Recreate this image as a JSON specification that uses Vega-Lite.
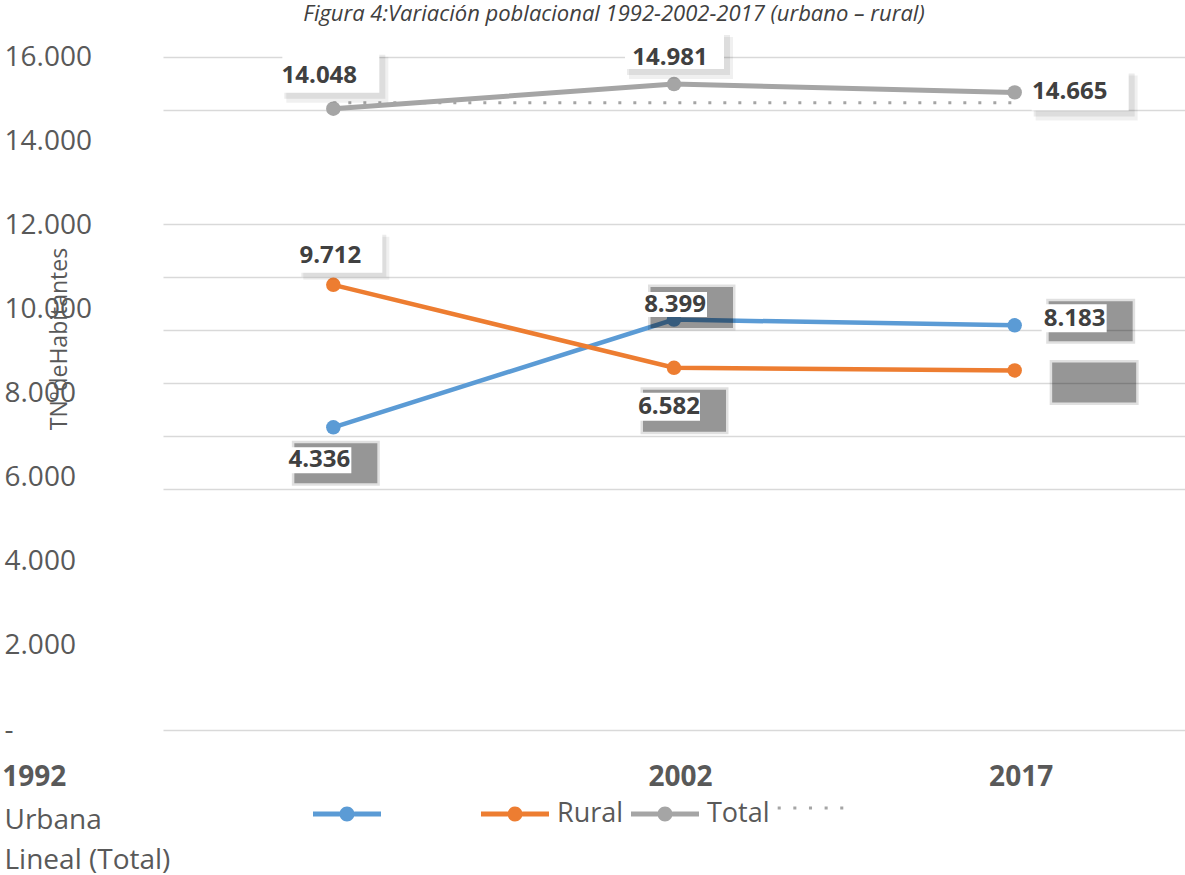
{
  "$schema": "https://vega.github.io/schema/vega-lite/v6.json",
  "autosize": {"type": "none"},
  "padding": {"left": 163, "top": 57, "right": 0, "bottom": 145},
  "width": 1022,
  "height": 673,
  "background": "white",
  "config": {
    "view": {"stroke": null},
    "font": "Open Sans",
    "locale": {"number": {"decimal": ",", "thousands": ".", "grouping": [3], "currency": ["", ""]}}
  },
  "title": {
    "text": "Figura 4:Variación poblacional 1992-2002-2017 (urbano – rural)",
    "font": "Open Sans", "fontStyle": "italic", "fontWeight": "normal", "fontSize": 22,
    "color": "#404040", "anchor": "middle", "frame": "group", "dx": -60, "baseline": "alphabetic", "offset": -10
  },
  "data": {"values": [
    {"id": "U92", "year": "1992", "series": "Urbana", "v": 4336},
    {"id": "U02", "year": "2002", "series": "Urbana", "v": 8399},
    {"id": "U17", "year": "2017", "series": "Urbana", "v": 8183},
    {"id": "R92", "year": "1992", "series": "Rural", "v": 9712},
    {"id": "R02", "year": "2002", "series": "Rural", "v": 6582},
    {"id": "R17", "year": "2017", "series": "Rural", "v": 6482},
    {"id": "T92", "year": "1992", "series": "Total", "v": 14048},
    {"id": "T02", "year": "2002", "series": "Total", "v": 14981},
    {"id": "T17", "year": "2017", "series": "Total", "v": 14665},
    {"id": "L92", "year": "1992", "series": "Lineal (Total)", "v": 14275},
    {"id": "L17", "year": "2017", "series": "Lineal (Total)", "v": 14275}
  ]},
  "encoding": {
    "x": {"field": "year", "type": "nominal",
      "scale": {"type": "point", "padding": 0.5, "domain": ["1992", "2002", "2017"]},
      "axis": {"orient": "bottom", "labelAngle": 0, "labelFont": "Open Sans", "labelFontSize": 28,
        "labelFontWeight": "bold", "labelColor": "#595959", "labelPadding": 47, "labelBaseline": "middle",
        "labelAlign": "right", "labelOffset": 38, "labelOverlap": false, "labelBound": false, "labelFlush": false, "labelLimit": 0,
        "labelExpr": "datum.value === '1992' ? '1992\u00a0\u00a0\u00a0\u00a0\u00a0\u00a0\u00a0\u00a0\u00a0\u00a0\u00a0\u00a0\u00a0\u00a0\u00a0\u00a0\u00a0\u00a0\u00a0\u00a0\u00a0\u00a0\u00a0\u00a0\u00a0\u00a0\u00a0\u00a0\u00a0\u00a0\u00a0\u00a0\u00a0\u00a0\u00a0\u00a0\u00a0\u00a0\u00a0\u00a0\u00a0\u00a0\u200b' : datum.label",
        "ticks": false, "tickSize": 0, "domain": true, "domainColor": "#D9D9D9", "domainWidth": 1.5, "grid": false,
        "title": ["Urbana", "Lineal (Total)"], "titleX": -159, "titleY": 98, "titleAlign": "left",
        "titleAngle": 0, "titleBaseline": "alphabetic", "titleLineHeight": 40, "titleFont": "Open Sans",
        "titleFontSize": 28, "titleFontWeight": "normal", "titleColor": "#595959"}
    }
  },
  "resolve": {"scale": {"y": "independent", "color": "independent", "shape": "independent"}},
  "layer": [
    {
      "transform": [{"filter": "false"}],
      "mark": {"type": "point", "opacity": 0},
      "encoding": {
        "y": {"field": "v", "type": "quantitative",
          "scale": {"domain": [0, 16000], "nice": false, "zero": false},
          "axis": {"orient": "left", "values": [0, 2000, 4000, 6000, 8000, 10000, 12000, 14000, 16000],
            "format": ",d", "labelExpr": "datum.value === 0 ? '-' : datum.label",
            "labelAlign": "left", "labelBaseline": "middle", "labelPadding": 159, "tickSize": 0, "ticks": false,
            "domain": false, "grid": false, "labelFont": "Open Sans", "labelFontSize": 28, "labelColor": "#595959",
            "labelOverlap": false, "labelBound": false, "labelFlush": false,
            "title": "TNºdeHabitantes", "titleX": -104, "titleY": 281.5, "titleAngle": -90,
            "titleAlign": "center", "titleBaseline": "middle", "titleFont": "Open Sans", "titleFontSize": 23,
            "titleFontWeight": "normal", "titleColor": "#595959"}
        }
      }
    },
    {
      "transform": [{"filter": "datum.series === 'Urbana' || datum.series === 'Rural'"}],
      "encoding": {
        "y": {"field": "v", "type": "quantitative",
          "scale": {"domain": [-7087, 18309], "nice": false, "zero": false},
          "axis": {"orient": "left", "values": [2000, 4000, 6000, 8000, 10000, 12000], "labels": false, "ticks": false,
            "domain": false, "grid": true, "gridColor": "#D9D9D9", "gridWidth": 1.5, "title": null}
        }
      },
      "layer": [
        {"mark": {"type": "line", "strokeWidth": 4.5},
          "encoding": {"color": {"field": "series", "type": "nominal",
            "scale": {"domain": ["Urbana", "Rural"], "range": ["#5B9BD5", "#ED7D31"]}, "legend": null}}},
        {"mark": {"type": "point", "filled": true, "size": 210, "opacity": 1, "strokeWidth": 0},
          "encoding": {"color": {"field": "series", "type": "nominal",
            "scale": {"domain": ["Urbana", "Rural"], "range": ["#5B9BD5", "#ED7D31"]}, "legend": null}}},
        {"transform": [{"filter": "datum.id === 'U92'"}], "layer": [
          {"mark": {"type": "point", "shape": "M-4.15,1.35H4.65V5.85H-4.15Z", "size": 400, "filled": true, "color": "black", "opacity": 0.12, "strokeWidth": 0}},
          {"mark": {"type": "point", "shape": "M-3.9,1.6H4.4V5.6H-3.9Z", "size": 400, "filled": true, "color": "black", "opacity": 0.33, "strokeWidth": 0}},
          {"mark": {"type": "point", "shape": "M-4.5,2H1.8V4.6H-4.5Z", "size": 400, "filled": true, "color": "white", "opacity": 1, "strokeWidth": 0}},
          {"mark": {"type": "text", "dx": -14, "dy": 33, "font": "Open Sans", "fontSize": 24, "fontWeight": "bold", "color": "#404040"},
            "encoding": {"text": {"field": "v", "type": "quantitative", "format": ",d"}}}
        ]},
        {"transform": [{"filter": "datum.id === 'U02'"}], "layer": [
          {"mark": {"type": "point", "shape": "M-2.6,-3.51H6.15V1.09H-2.6Z", "size": 400, "filled": true, "color": "black", "opacity": 0.12, "strokeWidth": 0}},
          {"mark": {"type": "point", "shape": "M-2.35,-3.26H5.9V0.84H-2.35Z", "size": 400, "filled": true, "color": "black", "opacity": 0.33, "strokeWidth": 0}},
          {"mark": {"type": "point", "shape": "M-3.1,-2.76H3.3V-0.26H-3.1Z", "size": 400, "filled": true, "color": "white", "opacity": 1, "strokeWidth": 0}},
          {"mark": {"type": "text", "dx": 1, "dy": -14.6, "font": "Open Sans", "fontSize": 24, "fontWeight": "bold", "color": "#404040"},
            "encoding": {"text": {"field": "v", "type": "quantitative", "format": ",d"}}}
        ]},
        {"transform": [{"filter": "datum.id === 'U17'"}], "layer": [
          {"mark": {"type": "point", "shape": "M3.15,-2.65H12.05V1.85H3.15Z", "size": 400, "filled": true, "color": "black", "opacity": 0.12, "strokeWidth": 0}},
          {"mark": {"type": "point", "shape": "M3.4,-2.4H11.8V1.6H3.4Z", "size": 400, "filled": true, "color": "black", "opacity": 0.33, "strokeWidth": 0}},
          {"mark": {"type": "point", "shape": "M2.7,-2.1H9.2V0.7H2.7Z", "size": 400, "filled": true, "color": "white", "opacity": 1, "strokeWidth": 0}},
          {"mark": {"type": "text", "dx": 60, "dy": -6, "font": "Open Sans", "fontSize": 24, "fontWeight": "bold", "color": "#404040"},
            "encoding": {"text": {"field": "v", "type": "quantitative", "format": ",d"}}}
        ]},
        {"transform": [{"filter": "datum.id === 'R17'"}], "layer": [
          {"mark": {"type": "point", "shape": "M3.5,-1.05H12.4V3.45H3.5Z", "size": 400, "filled": true, "color": "black", "opacity": 0.12, "strokeWidth": 0}},
          {"mark": {"type": "point", "shape": "M3.75,-0.8H12.15V3.2H3.75Z", "size": 400, "filled": true, "color": "black", "opacity": 0.33, "strokeWidth": 0}}
        ]},
        {"transform": [{"filter": "datum.id === 'R02'"}], "layer": [
          {"mark": {"type": "point", "shape": "M-3.35,1.95H5.45V6.65H-3.35Z", "size": 400, "filled": true, "color": "black", "opacity": 0.12, "strokeWidth": 0}},
          {"mark": {"type": "point", "shape": "M-3.1,2.2H5.2V6.4H-3.1Z", "size": 400, "filled": true, "color": "black", "opacity": 0.33, "strokeWidth": 0}},
          {"mark": {"type": "point", "shape": "M-3.6,2.5H2.6V5.3H-3.6Z", "size": 400, "filled": true, "color": "white", "opacity": 1, "strokeWidth": 0}},
          {"mark": {"type": "text", "dx": -5, "dy": 39, "font": "Open Sans", "fontSize": 24, "fontWeight": "bold", "color": "#404040"},
            "encoding": {"text": {"field": "v", "type": "quantitative", "format": ",d"}}}
        ]},
        {"transform": [{"filter": "datum.id === 'R92'"}], "layer": [
          {"mark": {"type": "point", "shape": "M-3.0,-4.8H5.6V-0.5H-3.0Z", "size": 400, "filled": true, "color": "black", "opacity": 0.06, "strokeWidth": 0}},
          {"mark": {"type": "point", "shape": "M-3.2,-5.0H5.3V-0.8H-3.2Z", "size": 400, "filled": true, "color": "black", "opacity": 0.08, "strokeWidth": 0}},
          {"mark": {"type": "point", "shape": "M-3.4,-5.2H4.9V-1.2H-3.4Z", "size": 400, "filled": true, "color": "white", "opacity": 1, "strokeWidth": 0}},
          {"mark": {"type": "text", "dx": -3, "dy": -29, "font": "Open Sans", "fontSize": 24, "fontWeight": "bold", "color": "#404040"},
            "encoding": {"text": {"field": "v", "type": "quantitative", "format": ",d"}}}
        ]}
      ]
    },
    {
      "transform": [{"filter": "datum.series === 'Total' || datum.series === 'Lineal (Total)'"}],
      "encoding": {
        "y": {"field": "v", "type": "quantitative",
          "scale": {"domain": [-9396, 16000], "nice": false, "zero": false},
          "axis": {"orient": "left", "values": [14000, 16000], "labels": false, "ticks": false,
            "domain": false, "grid": true, "gridColor": "#D9D9D9", "gridWidth": 1.5, "title": null}
        }
      },
      "layer": [
        {"transform": [{"filter": "datum.series === 'Lineal (Total)'"}],
          "mark": {"type": "line", "color": "#A5A5A5", "strokeWidth": 3, "strokeDash": [3, 12], "strokeCap": "butt"}},
        {"transform": [{"filter": "datum.series === 'Total'"}],
          "mark": {"type": "line", "color": "#A5A5A5", "strokeWidth": 5}},
        {"transform": [{"filter": "datum.series === 'Total'"}],
          "mark": {"type": "point", "filled": true, "size": 210, "opacity": 1, "color": "#A5A5A5", "strokeWidth": 0}},
        {"transform": [{"filter": "datum.id === 'T92'"}], "layer": [
          {"mark": {"type": "point", "shape": "M-4.7,-5.2H5.5V-0.6H-4.7Z", "size": 400, "filled": true, "color": "black", "opacity": 0.06, "strokeWidth": 0}},
          {"mark": {"type": "point", "shape": "M-4.9,-5.4H5.2V-1.0H-4.9Z", "size": 400, "filled": true, "color": "black", "opacity": 0.08, "strokeWidth": 0}},
          {"mark": {"type": "point", "shape": "M-5.1,-5.6H4.6V-1.6H-5.1Z", "size": 400, "filled": true, "color": "white", "opacity": 1, "strokeWidth": 0}},
          {"mark": {"type": "text", "dx": -14, "dy": -33, "font": "Open Sans", "fontSize": 24, "fontWeight": "bold", "color": "#404040"},
            "encoding": {"text": {"field": "v", "type": "quantitative", "format": ",d"}}}
        ]},
        {"transform": [{"filter": "datum.id === 'T02'"}], "layer": [
          {"mark": {"type": "point", "shape": "M-4.5,-4.7H5.9V-0.5H-4.5Z", "size": 400, "filled": true, "color": "black", "opacity": 0.06, "strokeWidth": 0}},
          {"mark": {"type": "point", "shape": "M-4.7,-4.9H5.6V-0.9H-4.7Z", "size": 400, "filled": true, "color": "black", "opacity": 0.08, "strokeWidth": 0}},
          {"mark": {"type": "point", "shape": "M-4.9,-5.1H5V-1.5H-4.9Z", "size": 400, "filled": true, "color": "white", "opacity": 1, "strokeWidth": 0}},
          {"mark": {"type": "text", "dx": -4, "dy": -26, "font": "Open Sans", "fontSize": 24, "fontWeight": "bold", "color": "#404040"},
            "encoding": {"text": {"field": "v", "type": "quantitative", "format": ",d"}}}
        ]},
        {"transform": [{"filter": "datum.id === 'T17'"}], "layer": [
          {"mark": {"type": "point", "shape": "M2.1,-1.7H12.3V2.8H2.1Z", "size": 400, "filled": true, "color": "black", "opacity": 0.06, "strokeWidth": 0}},
          {"mark": {"type": "point", "shape": "M1.9,-1.9H12V2.4H1.9Z", "size": 400, "filled": true, "color": "black", "opacity": 0.08, "strokeWidth": 0}},
          {"mark": {"type": "point", "shape": "M1.7,-2.1H11.4V1.8H1.7Z", "size": 400, "filled": true, "color": "white", "opacity": 1, "strokeWidth": 0}},
          {"mark": {"type": "text", "dx": 55, "dy": 0, "font": "Open Sans", "fontSize": 24, "fontWeight": "bold", "color": "#404040"},
            "encoding": {"text": {"field": "v", "type": "quantitative", "format": ",d"}}}
        ]}
      ]
    },
    {
      "transform": [{"filter": "false"}],
      "mark": {"type": "point", "filled": true, "opacity": 1, "size": 4624, "strokeWidth": 0},
      "encoding": {
        "color": {"field": "series", "type": "nominal",
          "scale": {"domain": ["Urbana", "Rural", "Total", "Lineal (Total)"], "range": ["#5B9BD5", "#ED7D31", "#A5A5A5", "#A5A5A5"]},
          "legend": {"title": null, "orient": "none", "legendX": 150, "legendY": 723, "direction": "horizontal",
            "symbolSize": 4624, "symbolStrokeWidth": 0, "labelFont": "Open Sans", "labelFontSize": 27,
            "labelColor": "#595959", "labelOffset": 8, "columnPadding": 7, "padding": 0, "labelLimit": 300,
            "labelExpr": "datum.label === 'Urbana' ? '\u200b\u00a0\u00a0\u00a0\u00a0\u00a0\u00a0\u00a0\u00a0\u00a0\u00a0\u00a0\u00a0\u200b' : (datum.label === 'Lineal (Total)' ? '' : datum.label)"}},
        "shape": {"field": "series", "type": "nominal",
          "scale": {"domain": ["Urbana", "Rural", "Total", "Lineal (Total)"],
            "range": [
              "M-1,-0.074H-0.21V0.074H-1Z M0.21,-0.074H1V0.074H0.21Z M-0.22,0A0.22,0.22 0 1,1 0.22,0A0.22,0.22 0 1,1 -0.22,0Z",
              "M-1,-0.074H-0.21V0.074H-1Z M0.21,-0.074H1V0.074H0.21Z M-0.22,0A0.22,0.22 0 1,1 0.22,0A0.22,0.22 0 1,1 -0.22,0Z",
              "M-1,-0.074H-0.21V0.074H-1Z M0.21,-0.074H1V0.074H0.21Z M-0.22,0A0.22,0.22 0 1,1 0.22,0A0.22,0.22 0 1,1 -0.22,0Z",
              "M-0.98,-0.22H-0.89V-0.13H-0.98Z M-0.52,-0.22H-0.43V-0.13H-0.52Z M-0.06,-0.22H0.03V-0.13H-0.06Z M0.4,-0.22H0.49V-0.13H0.4Z M0.86,-0.22H0.95V-0.13H0.86Z"
            ]},
          "legend": {"title": null, "orient": "none", "legendX": 150, "legendY": 723, "direction": "horizontal",
            "symbolSize": 4624, "symbolStrokeWidth": 0, "labelFont": "Open Sans", "labelFontSize": 27,
            "labelColor": "#595959", "labelOffset": 8, "columnPadding": 7, "padding": 0, "labelLimit": 300,
            "labelExpr": "datum.label === 'Urbana' ? '\u200b\u00a0\u00a0\u00a0\u00a0\u00a0\u00a0\u00a0\u00a0\u00a0\u00a0\u00a0\u00a0\u200b' : (datum.label === 'Lineal (Total)' ? '' : datum.label)"}}
      }
    }
  ]
}
